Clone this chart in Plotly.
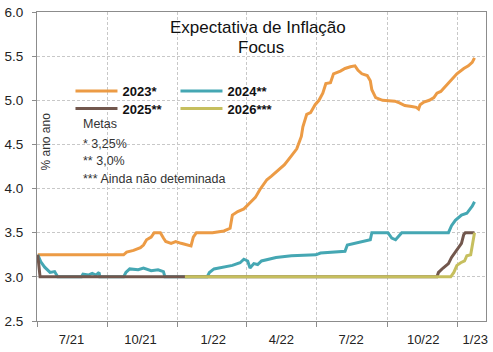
import plotly.graph_objects as go

# ---------------- data ----------------
d2023 = ["2021-07-02","2021-10-22","2021-10-26","2021-11-04","2021-11-13","2021-11-17","2021-11-21",
         "2021-11-27","2021-12-01","2021-12-09","2021-12-13","2021-12-16","2021-12-23","2021-12-29",
         "2022-01-05","2022-01-12","2022-01-18","2022-01-21","2022-01-25","2022-02-15","2022-03-02",
         "2022-03-10","2022-03-13","2022-03-20","2022-03-28","2022-04-05","2022-04-12","2022-04-18",
         "2022-04-27","2022-05-03","2022-05-11","2022-05-20","2022-05-29","2022-06-05","2022-06-11",
         "2022-06-13","2022-06-18","2022-06-23","2022-06-29","2022-07-04","2022-07-09","2022-07-13",
         "2022-07-19","2022-07-23","2022-08-01","2022-08-07","2022-08-14","2022-08-20","2022-08-24",
         "2022-08-29","2022-09-05","2022-09-09","2022-09-11","2022-09-16","2022-09-25","2022-10-11",
         "2022-10-17","2022-10-24","2022-11-02","2022-11-08","2022-11-11","2022-11-13","2022-11-18",
         "2022-11-25","2022-12-01","2022-12-05","2022-12-10","2022-12-17","2022-12-23","2022-12-31",
         "2023-01-09","2023-01-15","2023-01-20","2023-01-23"]
v2023 = [3.25,3.25,3.28,3.30,3.33,3.36,3.42,
         3.45,3.50,3.50,3.44,3.40,3.38,3.40,
         3.38,3.36,3.35,3.45,3.50,3.50,3.52,
         3.55,3.70,3.74,3.77,3.84,3.90,3.99,
         4.10,4.14,4.20,4.27,4.37,4.45,4.59,
         4.70,4.84,4.86,4.95,5.00,5.08,5.19,
         5.20,5.30,5.33,5.36,5.38,5.39,5.34,
         5.30,5.28,5.22,5.12,5.03,5.00,4.99,
         4.97,4.94,4.93,4.92,4.90,4.95,4.98,
         5.00,5.03,5.08,5.10,5.17,5.23,5.30,
         5.36,5.39,5.43,5.48]

d2024 = ["2021-07-02","2021-07-06","2021-07-11","2021-07-18","2021-07-24","2021-07-28","2021-08-28",
         "2021-08-30","2021-09-06","2021-09-11","2021-09-16","2021-09-20","2021-09-21","2021-10-22",
         "2021-10-25","2021-10-30","2021-11-10","2021-11-17","2021-11-27","2021-12-06","2021-12-13",
         "2021-12-15","2022-02-08","2022-02-11","2022-02-17","2022-03-02","2022-03-13","2022-03-23",
         "2022-03-28","2022-04-02","2022-04-05","2022-04-10","2022-04-15","2022-04-20","2022-04-28",
         "2022-05-09","2022-05-29","2022-06-30","2022-07-06","2022-07-19","2022-08-07","2022-08-10",
         "2022-08-27","2022-09-09","2022-09-11","2022-10-02","2022-10-07","2022-10-12","2022-10-16",
         "2022-10-20","2022-12-20","2022-12-24","2022-12-29","2023-01-06","2023-01-13","2023-01-18",
         "2023-01-20","2023-01-23"]
v2024 = [3.25,3.17,3.11,3.05,3.06,3.00,3.00,
         3.03,3.02,3.04,3.02,3.05,3.00,3.00,
         3.05,3.09,3.08,3.10,3.07,3.08,3.06,
         3.00,3.00,3.05,3.09,3.11,3.13,3.16,
         3.20,3.18,3.10,3.15,3.14,3.18,3.20,
         3.22,3.24,3.25,3.27,3.28,3.29,3.36,
         3.39,3.42,3.50,3.50,3.44,3.42,3.46,
         3.50,3.50,3.58,3.64,3.70,3.72,3.77,
         3.80,3.85]

d2025 = ["2021-07-02","2021-07-05","2022-12-05","2022-12-07","2022-12-13","2022-12-20","2022-12-24",
         "2022-12-28","2023-01-02","2023-01-06","2023-01-09","2023-01-11","2023-01-23"]
v2025 = [3.25,3.00,3.00,3.05,3.10,3.15,3.22,
         3.27,3.33,3.38,3.48,3.50,3.50]

d2026 = ["2022-01-10","2022-12-23","2022-12-27","2022-12-31","2023-01-05","2023-01-10","2023-01-13",
         "2023-01-18","2023-01-20","2023-01-23"]
v2026 = [3.00,3.00,3.05,3.13,3.16,3.18,3.24,
         3.25,3.35,3.50]

series_names = ["2023*", "2024**", "2025**", "2026***"]
series_colors = ["#EC9B45", "#45A7B3", "#72574D", "#C6BF5E"]

quarter_starts = ["2021-07-01","2021-10-01","2022-01-01","2022-04-01","2022-07-01","2022-10-01","2023-01-01"]
label_dates = ["2021-08-15","2021-11-13","2022-02-16","2022-05-16","2022-08-15","2022-11-17","2023-01-24"]
label_texts = ["7/21","10/21","1/22","4/22","7/22","10/22","1/23"]
y_ticks = [2.5, 3.0, 3.5, 4.0, 4.5, 5.0, 5.5, 6.0]

title_lines = ["Expectativa de Inflação", "Focus"]
metas_lines = ["Metas", "* 3,25%", "** 3,0%", "*** Ainda não deteminada"]
y_title = "% ano ano"

# ---------------- figure ----------------
FONT = "Arial, Liberation Sans, sans-serif"
W, H = 493, 352
ML, MR, MT, MB = 32, 5, 10, 25
PW, PH = W - ML - MR, H - MT - MB

def px(x):
    return (x - ML) / PW

def py(y):
    return (H - MB - y) / PH

fig = go.Figure()
data = [(d2023, v2023), (d2024, v2024), (d2025, v2025), (d2026, v2026)]
legends = ["legend", "legend", "legend2", "legend2"]
for (dx, vy), name, col, lg in zip(data, series_names, series_colors, legends):
    fig.add_trace(go.Scatter(x=dx, y=vy, mode="lines", name=name,
                             line=dict(color=col, width=3), legend=lg))

ann = []
ann.append(dict(x=px(256), y=py(26), text=title_lines[0], font=dict(size=17, color="#111")))
ann.append(dict(x=px(259), y=py(46), text=title_lines[1], font=dict(size=17, color="#111")))
for t, yy in zip(metas_lines, [125, 145, 163, 181]):
    ann.append(dict(x=px(77), y=py(yy), text=t, xanchor="left", font=dict(size=12.5, color="#333")))
ann.append(dict(x=px(41), y=py(143), text=y_title, textangle=-90, font=dict(size=12, color="#333")))
for a in ann:
    a.setdefault("xanchor", "center")
    a.update(xref="paper", yref="paper", yanchor="middle", showarrow=False)

leg_common = dict(orientation="h", entrywidth=48, entrywidthmode="pixels", itemwidth=42,
                  font=dict(family=FONT, size=13, color="#111", weight="bold"),
                  bgcolor="rgba(0,0,0,0)", borderwidth=0, xanchor="left", yanchor="middle",
                  tracegroupgap=0, itemclick=False)

fig.update_layout(
    width=W, height=H,
    margin=dict(l=ML, r=MR, t=MT, b=MB, pad=0),
    paper_bgcolor="white", plot_bgcolor="white",
    font=dict(family=FONT, size=13, color="#222"),
    showlegend=True,
    legend=dict(x=px(66), y=py(91), **leg_common),
    legend2=dict(x=px(66), y=py(109), **leg_common),
    annotations=ann,
    xaxis=dict(
        type="date", range=["2021-07-01", "2023-02-07"],
        tickmode="array", tickvals=label_dates, ticktext=label_texts,
        ticks="", showgrid=False, tickfont=dict(size=13, color="#222"),
        showline=True, linecolor="#8c8c8c", linewidth=1, mirror=True,
        ticklabelstandoff=6,
        minor=dict(tickmode="array", tickvals=quarter_starts, ticks="outside", ticklen=5,
                   tickcolor="#8c8c8c", showgrid=True, gridcolor="#c8c8c8", gridwidth=1,
                   griddash="3px,2px"),
        zeroline=False,
    ),
    yaxis=dict(
        range=[2.5, 6.0], tickmode="array", tickvals=y_ticks,
        ticktext=[f"{v:.1f}" for v in y_ticks],
        ticks="outside", ticklen=4, tickcolor="#8c8c8c",
        tickfont=dict(size=13.5, color="#222"),
        showgrid=True, gridcolor="#c8c8c8", gridwidth=1, griddash="3px,2px",
        showline=True, linecolor="#8c8c8c", linewidth=1, mirror=True,
        ticklabelstandoff=6, zeroline=False,
    ),
)

fig.write_html("out.html")
